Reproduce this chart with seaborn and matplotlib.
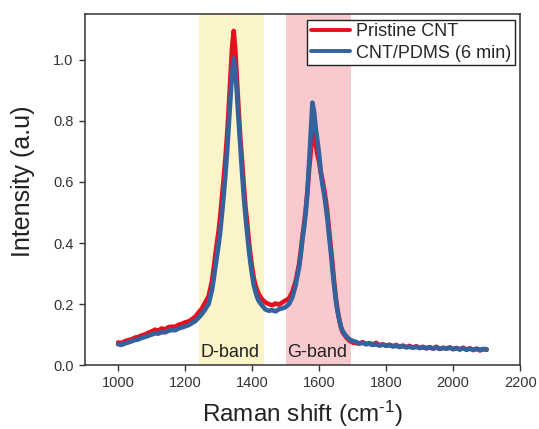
import numpy as np
import pandas as pd
import matplotlib
matplotlib.use("Agg")
import matplotlib.pyplot as plt
import seaborn as sns

# Raman shift sampling grid (cm^-1): coarse on the baseline, finer across the two bands
shift_base = np.arange(1000, 1261, 10)
shift_d = np.arange(1270, 1421, 5)
shift_mid = np.arange(1430, 1531, 10)
shift_g = np.arange(1540, 1671, 5)
shift_tail = np.arange(1680, 2101, 10)
shift = np.concatenate([shift_base, shift_d, shift_mid, shift_g, shift_tail])

pristine = [
    # 1000-1260
    0.074, 0.072, 0.078, 0.082, 0.084, 0.090, 0.092, 0.097, 0.100, 0.106,
    0.110, 0.116, 0.113, 0.120, 0.117, 0.124, 0.126, 0.125, 0.132, 0.135,
    0.140, 0.143, 0.150, 0.158, 0.172, 0.185, 0.205,
    # 1270-1420 (D band)
    0.225, 0.250, 0.275, 0.315, 0.360, 0.400, 0.440, 0.490, 0.550, 0.610,
    0.675, 0.750, 0.840, 0.940, 1.040, 1.095, 1.030, 0.930, 0.830, 0.740,
    0.670, 0.590, 0.520, 0.470, 0.410, 0.360, 0.320, 0.285, 0.262, 0.245,
    0.232,
    # 1430-1530
    0.215, 0.205, 0.200, 0.196, 0.202, 0.198, 0.205, 0.212, 0.218, 0.240,
    0.275,
    # 1540-1670 (G band)
    0.330, 0.372, 0.420, 0.462, 0.510, 0.570, 0.640, 0.700, 0.770, 0.760,
    0.720, 0.690, 0.665, 0.630, 0.605, 0.575, 0.540, 0.495, 0.440, 0.385,
    0.330, 0.270, 0.220, 0.180, 0.150, 0.125, 0.108,
    # 1680-2100
    0.092, 0.080, 0.074, 0.072, 0.070, 0.075, 0.069, 0.072, 0.067, 0.073,
    0.065, 0.068, 0.064, 0.067, 0.062, 0.066, 0.060, 0.064, 0.059, 0.063,
    0.057, 0.062, 0.056, 0.060, 0.055, 0.059, 0.054, 0.060, 0.053, 0.057,
    0.054, 0.058, 0.052, 0.056, 0.051, 0.057, 0.050, 0.055, 0.049, 0.054,
    0.048, 0.052, 0.050,
]

cnt_pdms = [
    # 1000-1260
    0.068, 0.066, 0.071, 0.074, 0.078, 0.082, 0.084, 0.089, 0.092, 0.096,
    0.100, 0.104, 0.103, 0.108, 0.107, 0.112, 0.115, 0.114, 0.120, 0.123,
    0.127, 0.131, 0.137, 0.144, 0.155, 0.167, 0.183,
    # 1270-1420 (D band)
    0.200, 0.222, 0.245, 0.280, 0.318, 0.355, 0.395, 0.440, 0.495, 0.555,
    0.620, 0.695, 0.780, 0.870, 0.960, 1.005, 0.965, 0.880, 0.790, 0.705,
    0.630, 0.555, 0.490, 0.435, 0.380, 0.335, 0.295, 0.262, 0.240, 0.222,
    0.210,
    # 1430-1530
    0.195, 0.182, 0.178, 0.180, 0.176, 0.183, 0.186, 0.190, 0.200, 0.222,
    0.262,
    # 1540-1670 (G band)
    0.320, 0.360, 0.410, 0.450, 0.500, 0.565, 0.660, 0.760, 0.860, 0.830,
    0.775, 0.735, 0.690, 0.635, 0.590, 0.560, 0.520, 0.475, 0.420, 0.370,
    0.310, 0.260, 0.210, 0.175, 0.150, 0.125, 0.112,
    # 1680-2100
    0.096, 0.085, 0.079, 0.076, 0.071, 0.073, 0.068, 0.070, 0.066, 0.068,
    0.064, 0.067, 0.063, 0.065, 0.061, 0.063, 0.059, 0.062, 0.058, 0.060,
    0.057, 0.060, 0.056, 0.058, 0.055, 0.058, 0.054, 0.057, 0.053, 0.056,
    0.054, 0.057, 0.053, 0.055, 0.052, 0.055, 0.051, 0.054, 0.050, 0.053,
    0.050, 0.053, 0.052,
]

series_names = ["Pristine CNT", "CNT/PDMS (6 min)"]
band_names = ["D-band", "G-band"]
band_ranges = [(1240, 1435), (1500, 1695)]

x_ticks = [1000, 1200, 1400, 1600, 1800, 2000, 2200]
y_ticks = [0.0, 0.2, 0.4, 0.6, 0.8, 1.0]

sns.set_theme(style="ticks")
plt.rcParams["font.family"] = ["Liberation Sans", "DejaVu Sans"]
plt.rcParams["mathtext.fontset"] = "custom"
plt.rcParams["mathtext.rm"] = "Liberation Sans"
plt.rcParams["mathtext.it"] = "Liberation Sans:italic"
plt.rcParams["mathtext.bf"] = "Liberation Sans:bold"

df = pd.DataFrame({
    "shift": np.concatenate([shift, shift]),
    "intensity": np.concatenate([pristine, cnt_pdms]),
    "sample": [series_names[0]] * len(shift) + [series_names[1]] * len(shift),
})

fig = plt.figure(figsize=(5.39, 4.29), dpi=100)
ax = fig.add_axes([0.157, 0.149, 0.808, 0.818])

band_colors = ["#FAF4C8", "#F8CACD"]
for (lo, hi), c in zip(band_ranges, band_colors):
    ax.axvspan(lo, hi, color=c, lw=0, zorder=0)

sns.lineplot(data=df, x="shift", y="intensity", hue="sample",
             palette={series_names[0]: "#E8101E", series_names[1]: "#33629E"},
             linewidth=3.3, ax=ax, zorder=2)

for name, (lo, hi) in zip(band_names, band_ranges):
    ax.text((lo + hi) / 2 - 3, 0.042, name, ha="center", va="center",
            fontsize=13, color="#222222", zorder=3)

ax.set_xlim(900, 2200)
ax.set_ylim(0, 1.15)
ax.set_xticks(x_ticks)
ax.set_yticks(y_ticks)
ax.set_yticklabels([f"{v:.1f}" for v in y_ticks])
ax.tick_params(axis="both", labelsize=10.5, colors="#333333", direction="out",
               length=4.5, width=1, top=False, right=False)
for s in ax.spines.values():
    s.set_color("#333333")
    s.set_linewidth(1.1)

ax.set_xlabel(r"Raman shift (cm$^{\text{-1}}$)", fontsize=17.5, color="#222222", labelpad=6)
ax.set_ylabel("Intensity (a.u)", fontsize=18, color="#222222")
ax.yaxis.set_label_coords(-0.113, 0.525)

leg = ax.legend(loc="upper right", fontsize=13, frameon=True, fancybox=False,
                framealpha=1, edgecolor="#222222", borderpad=0.2,
                handlelength=2.2, handletextpad=0.3, labelspacing=0.25,
                borderaxespad=0.3)
leg.get_frame().set_linewidth(1.0)
for line in leg.get_lines():
    line.set_linewidth(2.8)

fig.savefig("out.png", dpi=100)
